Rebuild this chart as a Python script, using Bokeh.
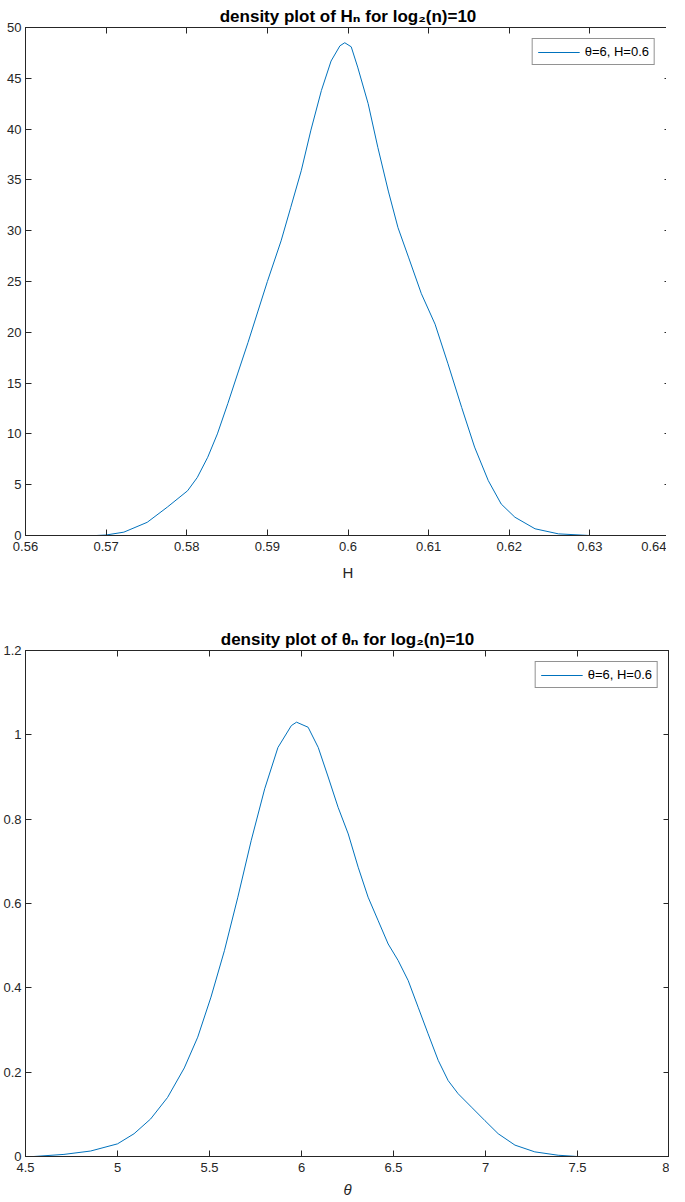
from bokeh.plotting import figure
from bokeh.layouts import column
from bokeh.models import Range1d, FixedTicker, LinearAxis, Legend, LegendItem
from bokeh.embed import file_html
from bokeh.resources import INLINE

# ---- data ----
H_x = [0.5688, 0.5700, 0.5722, 0.5751, 0.5776, 0.5801, 0.5813, 0.5826, 0.5838,
       0.5851, 0.5863, 0.5876, 0.5888, 0.5900, 0.5917, 0.5929, 0.5942, 0.5954,
       0.5967, 0.5979, 0.5990, 0.5996, 0.6004, 0.6012, 0.6025, 0.6037, 0.6050,
       0.6062, 0.6075, 0.6091, 0.6108, 0.6124, 0.6141, 0.6157, 0.6174, 0.6190,
       0.6207, 0.6232, 0.6261, 0.6300]
H_density = [0.0, 0.05, 0.33, 1.3, 2.8, 4.4, 5.7, 7.7, 10.0,
             13.0, 15.9, 19.0, 22.0, 25.0, 29.0, 32.3, 35.9, 39.9,
             43.8, 46.7, 48.2, 48.5, 48.1, 46.1, 42.5, 38.2, 33.9,
             30.3, 27.4, 23.8, 20.8, 16.9, 12.6, 8.7, 5.4, 3.1,
             1.8, 0.66, 0.16, 0.0]

theta_x = [4.545, 4.709, 4.854, 5.000, 5.090, 5.180, 5.272, 5.363, 5.436,
           5.508, 5.581, 5.654, 5.727, 5.800, 5.872, 5.945, 5.973, 6.036,
           6.091, 6.145, 6.199, 6.254, 6.308, 6.362, 6.417, 6.471, 6.525,
           6.580, 6.634, 6.688, 6.743, 6.797, 6.851, 6.924, 6.997, 7.069,
           7.160, 7.268, 7.395, 7.500]
theta_density = [0.0, 0.005, 0.013, 0.030, 0.054, 0.089, 0.140, 0.210, 0.283,
                 0.378, 0.488, 0.615, 0.750, 0.872, 0.970, 1.022, 1.030, 1.018,
                 0.970, 0.900, 0.828, 0.765, 0.686, 0.615, 0.559, 0.504, 0.465,
                 0.417, 0.354, 0.291, 0.228, 0.180, 0.149, 0.117, 0.085, 0.054,
                 0.027, 0.011, 0.003, 0.0]

H_xticks = [0.56, 0.57, 0.58, 0.59, 0.60, 0.61, 0.62, 0.63, 0.64]
H_xtick_labels = ["0.56", "0.57", "0.58", "0.59", "0.6", "0.61", "0.62", "0.63", "0.64"]
H_yticks = [0, 5, 10, 15, 20, 25, 30, 35, 40, 45, 50]
H_ytick_labels = ["0", "5", "10", "15", "20", "25", "30", "35", "40", "45", "50"]

T_xticks = [4.5, 5.0, 5.5, 6.0, 6.5, 7.0, 7.5, 8.0]
T_xtick_labels = ["4.5", "5", "5.5", "6", "6.5", "7", "7.5", "8"]
T_yticks = [0, 0.2, 0.4, 0.6, 0.8, 1.0, 1.2]
T_ytick_labels = ["0", "0.2", "0.4", "0.6", "0.8", "1", "1.2"]

legend_label = "\u03b8=6, H=0.6"
title_H = "density plot of H\u2099 for log\u2082(n)=10"
title_T = "density plot of \u03b8\u2099 for log\u2082(n)=10"

LINE = "#0072BD"
AX = "#262626"
FONT = "Liberation Sans"
TITLE_FONT = "'Liberation Sans', 'DejaVu Sans'"


def make(xs, ys, xr, yr, xt, xl, yt, yl, title, xlabel, xlabel_style,
         fw, fh, bl, bt, bb, xlab_standoff):
    p = figure(frame_width=fw, frame_height=fh, output_backend="svg",
               toolbar_location=None, x_range=Range1d(*xr), y_range=Range1d(*yr),
               min_border_left=bl, min_border_top=bt, min_border_bottom=bb,
               min_border_right=0, background_fill_color="white",
               border_fill_color="white")
    p.title.text = title
    p.title.align = "center"
    p.title.text_font = TITLE_FONT
    p.title.text_font_size = "17px"
    p.title.text_font_style = "bold"
    p.title.text_color = "black"
    p.title.standoff = 3
    p.xgrid.visible = False
    p.ygrid.visible = False
    p.outline_line_color = AX
    p.outline_line_alpha = 1.0

    r = p.line(xs, ys, line_color=LINE, line_width=1, line_join="round")

    for ax, ticks, labels in ((p.xaxis[0], xt, xl), (p.yaxis[0], yt, yl)):
        ax.ticker = FixedTicker(ticks=ticks, minor_ticks=[])
        ax.major_label_overrides = {t: s for t, s in zip(ticks, labels)}
        ax.major_tick_in = 6
        ax.major_tick_out = 0
        ax.minor_tick_line_color = None
        ax.axis_line_color = AX
        ax.major_tick_line_color = AX
        ax.major_label_text_font = FONT
        ax.major_label_text_font_size = "13px"
        ax.major_label_text_color = AX
    p.xaxis.major_label_standoff = 6
    p.yaxis.major_label_standoff = 4
    p.xaxis.axis_label = xlabel
    p.xaxis.axis_label_text_font = FONT
    p.xaxis.axis_label_text_font_size = "15px"
    p.xaxis.axis_label_text_font_style = xlabel_style
    p.xaxis.axis_label_text_color = AX
    p.xaxis.axis_label_standoff = xlab_standoff

    # mirrored ticks on top and right (box on), without labels
    top = LinearAxis(ticker=FixedTicker(ticks=xt, minor_ticks=[]),
                     major_tick_in=6, major_tick_out=0,
                     major_label_overrides={t: "" for t in xt},
                     major_label_standoff=0,
                     axis_line_color=AX, major_tick_line_color=AX,
                     minor_tick_line_color=None)
    right = LinearAxis(ticker=FixedTicker(ticks=yt, minor_ticks=[]),
                       major_tick_in=6, major_tick_out=0,
                       major_label_overrides={t: "" for t in yt},
                       major_label_standoff=0,
                       axis_line_color=AX, major_tick_line_color=AX,
                       minor_tick_line_color=None)
    p.add_layout(top, "above")
    p.add_layout(right, "right")

    leg = Legend(items=[LegendItem(label=legend_label, renderers=[r])],
                 location="top_right", border_line_color=AX, border_line_width=1,
                 label_text_font=FONT, label_text_font_size="13px",
                 label_text_color="black", glyph_width=42, glyph_height=14,
                 padding=5, spacing=0, label_standoff=5, margin=11,
                 background_fill_alpha=1.0, label_height=14)
    p.add_layout(leg, "center")
    return p


p1 = make(H_x, H_density, (0.56, 0.64), (0, 50), H_xticks, H_xtick_labels,
          H_yticks, H_ytick_labels, title_H, "H", "normal",
          645, 508, 17, 27, 77, 10)
p2 = make(theta_x, theta_density, (4.5, 8.0), (0, 1.2), T_xticks, T_xtick_labels,
          T_yticks, T_ytick_labels, title_T, "\u03b8", "italic",
          644, 506, 24, 38, 38, 6)

layout = column(p1, p2, spacing=0)
open("out.html", "w").write(file_html(layout, INLINE))
